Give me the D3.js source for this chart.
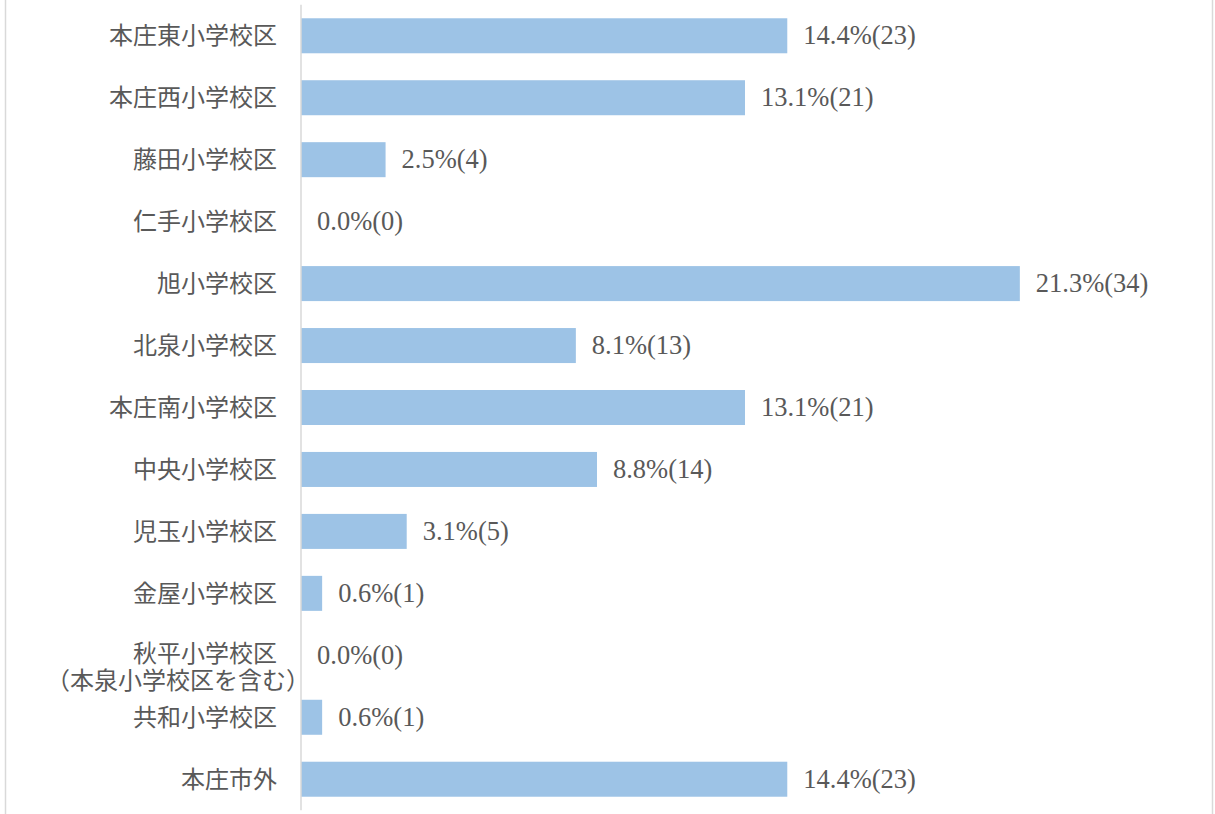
<!DOCTYPE html>
<html><head><meta charset="utf-8">
<script src="https://cdn.jsdelivr.net/npm/d3@7"></script>
<style>
html,body{margin:0;padding:0;background:#fff;}
</style></head>
<body>
<svg id="chart" width="1215" height="814"></svg>
<script>
const categories = ["本庄東小学校区","本庄西小学校区","藤田小学校区","仁手小学校区","旭小学校区","北泉小学校区","本庄南小学校区","中央小学校区","児玉小学校区","金屋小学校区","秋平小学校区\n（本泉小学校区を含む）","共和小学校区","本庄市外"];
const percents = [14.375,13.125,2.5,0,21.25,8.125,13.125,8.75,3.125,0.625,0,0.625,14.375];
const counts = [23,21,4,0,34,13,21,14,5,1,0,1,23];

const svg = d3.select("#chart");
const W = 1215, H = 814;
const textColor = "#595959";
const jp = "'Noto Sans CJK JP', 'Noto Sans', sans-serif";
const num = "'Liberation Serif', 'DejaVu Serif', serif";

// frame borders
svg.append("line").attr("x1",5.5).attr("x2",5.5).attr("y1",0).attr("y2",H).attr("stroke","#d9d9d9").attr("stroke-width",1.5);
svg.append("line").attr("x1",1212.5).attr("x2",1212.5).attr("y1",0).attr("y2",H).attr("stroke","#d9d9d9").attr("stroke-width",1.5);

const x = d3.scaleLinear().domain([0,25]).range([301,1146.7]);
const y = d3.scaleBand().domain(categories).range([4.8,810.2]).paddingInner(0.435).paddingOuter(0.2175);

const data = categories.map((c,i)=>({c, p:percents[i], n:counts[i]}));

svg.append("g").selectAll("rect").data(data).join("rect")
  .attr("x", x(0)).attr("y", d=>y(d.c))
  .attr("width", d=>x(d.p)-x(0)).attr("height", y.bandwidth())
  .attr("fill","#9dc3e6");

// axis line
svg.append("line").attr("x1",x(0)).attr("x2",x(0)).attr("y1",y.range()[0]).attr("y2",y.range()[1])
  .attr("stroke","#d9d9d9").attr("stroke-width",1.5);

// value labels
svg.append("g").selectAll("text").data(data).join("text")
  .attr("x", d=>x(d.p)+16)
  .attr("y", d=>y(d.c)+y.bandwidth()/2+8.5)
  .attr("font-family", num).attr("font-size", 26.5).attr("fill", textColor)
  .text(d=>d.p.toFixed(1)+"%("+d.n+")");

// category labels
const lab = svg.append("g").selectAll("text").data(data).join("text")
  .attr("font-family", jp).attr("font-size", 24).attr("fill", textColor)
  .attr("text-anchor","end");
lab.each(function(d){
  const t = d3.select(this);
  const cy = y(d.c)+y.bandwidth()/2;
  const lines = d.c.split("\n");
  if (lines.length === 1) {
    t.append("tspan").attr("x", 277).attr("y", cy+8.5).text(lines[0]);
  } else {
    lines.forEach((s,i)=>{
      t.append("tspan").attr("x", i===0?277:310).attr("y", cy+7+i*27).text(s);
    });
  }
});
</script>
</body></html>
